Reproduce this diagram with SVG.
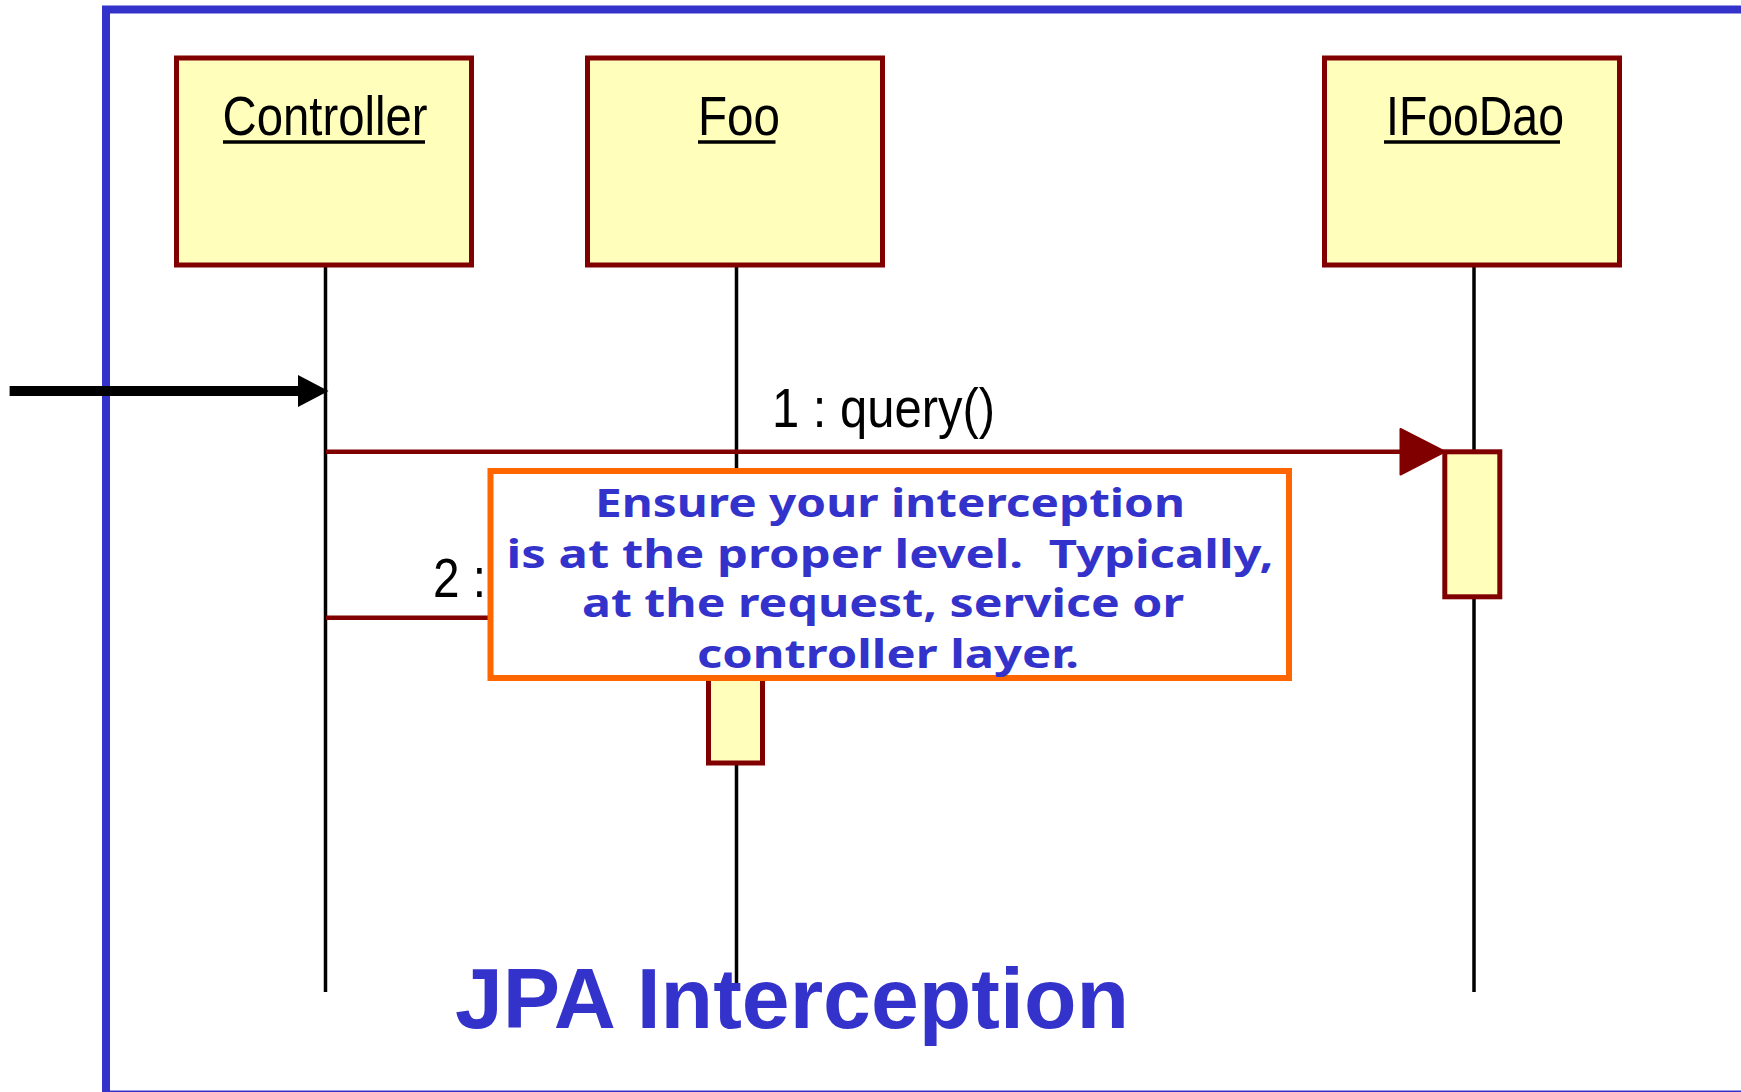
<svg xmlns="http://www.w3.org/2000/svg" width="1741" height="1092" viewBox="0 0 1741 1092">
  <style>
    .obj { fill: #FFFFBB; stroke: #800000; stroke-width: 5; }
    .act { fill: #FFFFBB; stroke: #800000; stroke-width: 5; }
    .name { font-family: "Liberation Sans", Arial, sans-serif; font-size: 56px; fill: #000; }
    .uline { stroke: #000; stroke-width: 3.5; }
    .life { stroke: #000; stroke-width: 3.5; fill: none; }
    .msg { stroke: #800000; stroke-width: 4.5; fill: none; }
    .msglabel { font-family: "Liberation Sans", Arial, sans-serif; font-size: 56px; fill: #000; }
    .notetext { font-family: "Noto Sans", "DejaVu Sans", Verdana, sans-serif; font-weight: bold; font-size: 39px; fill: #3333CC; text-anchor: middle; white-space: pre; }
  </style>

  <!-- outer frame -->
  <rect x="106" y="9.5" width="1700" height="1085" fill="#FFFFFF" stroke="#3333CC" stroke-width="8"/>

  <!-- lifelines -->
  <g id="lifelines">
    <line class="life" x1="325.5" y1="267" x2="325.5" y2="992"/>
    <line class="life" x1="736.5" y1="267" x2="736.5" y2="990"/>
    <line class="life" x1="1474" y1="267" x2="1474" y2="992"/>
  </g>

  <!-- object: Controller -->
  <g id="controller">
    <rect class="obj" x="176.5" y="58" width="295" height="207"/>
    <text class="name" x="222.5" y="135" textLength="205" lengthAdjust="spacingAndGlyphs">Controller</text>
    <line class="uline" x1="223" y1="142" x2="425" y2="142"/>
  </g>

  <!-- object: Foo -->
  <g id="foo">
    <rect class="obj" x="587.5" y="58" width="295" height="207"/>
    <rect class="act" x="708.5" y="618" width="54" height="145"/>
    <text class="name" x="698" y="135" textLength="82" lengthAdjust="spacingAndGlyphs">Foo</text>
    <line class="uline" x1="698" y1="142" x2="775.5" y2="142"/>
  </g>

  <!-- object: IFooDao -->
  <g id="ifoodao">
    <rect class="obj" x="1324.5" y="58" width="295" height="207"/>
    <rect class="act" x="1444.8" y="451.8" width="55" height="145"/>
    <text class="name" x="1386" y="135" textLength="178" lengthAdjust="spacingAndGlyphs">IFooDao</text>
    <line class="uline" x1="1384" y1="142" x2="1560" y2="142"/>
  </g>

  <!-- messages -->
  <g id="connectors">
    <!-- incoming call -->
    <line x1="9.6" y1="391" x2="300" y2="391" stroke="#000" stroke-width="10"/>
    <polygon points="298,375 328.5,391 298,407" fill="#000"/>
    <!-- 1 : query() -->
    <line class="msg" x1="326" y1="451.7" x2="1402" y2="451.7"/>
    <polygon points="1400.5,429 1445,451.7 1400.5,474.5" fill="#800000" stroke="#800000" stroke-width="2" stroke-linejoin="round"/>
    <text class="msglabel" x="772" y="426.7" textLength="223" lengthAdjust="spacingAndGlyphs">1 : query()</text>
    <!-- 2 : -->
    <line class="msg" x1="326" y1="617.7" x2="708" y2="617.7"/>
    <text class="msglabel" x="433" y="596.7" textLength="53" lengthAdjust="spacingAndGlyphs">2 :</text>
  </g>

  <!-- note -->
  <g id="note">
    <rect x="490.5" y="471" width="798.5" height="207" fill="#FFFFFF" stroke="#FF6600" stroke-width="6"/>
    <text class="notetext" x="890" y="517" textLength="590" lengthAdjust="spacingAndGlyphs">Ensure your interception</text>
    <text class="notetext" x="890" y="567.5" textLength="767" lengthAdjust="spacingAndGlyphs" xml:space="preserve">is at the proper level.  Typically,</text>
    <text class="notetext" x="883" y="617" textLength="602" lengthAdjust="spacingAndGlyphs">at the request, service or</text>
    <text class="notetext" x="888" y="667.5" textLength="382" lengthAdjust="spacingAndGlyphs">controller layer.</text>
  </g>

  <!-- title -->
  <g id="title">
    <text x="455" y="1027.7" font-family="Liberation Sans, Arial, sans-serif" font-weight="bold" font-size="86" fill="#3333CC" textLength="674" lengthAdjust="spacingAndGlyphs">JPA Interception</text>
  </g>
</svg>
